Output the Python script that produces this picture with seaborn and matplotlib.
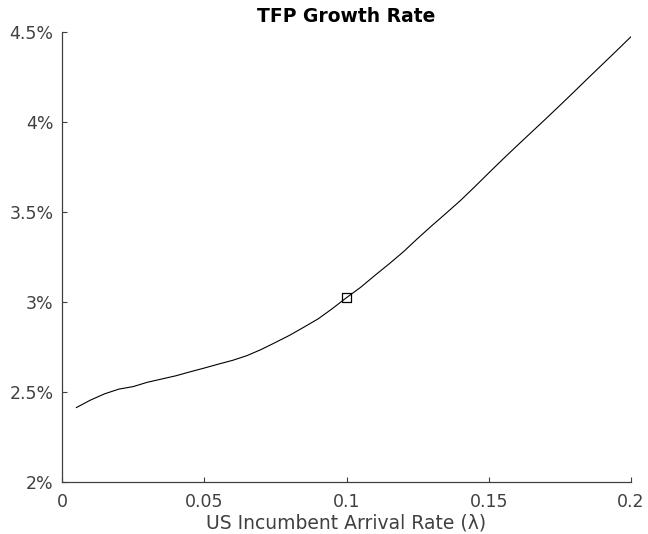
import numpy as np
import pandas as pd
import matplotlib
matplotlib.use("Agg")
import matplotlib.pyplot as plt
from matplotlib.ticker import FuncFormatter
import seaborn as sns

# US incumbent arrival rate (lambda) and resulting TFP growth rate (%)
arrival_rate = [0.005, 0.010, 0.015, 0.020, 0.025, 0.030, 0.035, 0.040, 0.045, 0.050,
                0.055, 0.060, 0.065, 0.070, 0.075, 0.080, 0.085, 0.090, 0.095, 0.100,
                0.105, 0.110, 0.115, 0.120, 0.125, 0.130, 0.135, 0.140, 0.145, 0.150,
                0.155, 0.160, 0.165, 0.170, 0.175, 0.180, 0.185, 0.190, 0.195, 0.200]
tfp_growth = [2.413, 2.455, 2.490, 2.516, 2.530, 2.554, 2.572, 2.590, 2.612, 2.633,
              2.655, 2.676, 2.702, 2.736, 2.775, 2.815, 2.860, 2.906, 2.963, 3.024,
              3.082, 3.148, 3.212, 3.279, 3.353, 3.424, 3.493, 3.563, 3.639, 3.717,
              3.794, 3.869, 3.943, 4.017, 4.092, 4.168, 4.245, 4.321, 4.397, 4.474]

# Baseline calibration point
baseline_rate = [0.100]
baseline_growth = [3.024]

x_ticks = [0, 0.05, 0.1, 0.15, 0.2]
x_tick_labels = ["0", "0.05", "0.1", "0.15", "0.2"]
y_ticks = [2.0, 2.5, 3.0, 3.5, 4.0, 4.5]

df = pd.DataFrame({"rate": arrival_rate, "growth": tfp_growth})
base = pd.DataFrame({"rate": baseline_rate, "growth": baseline_growth})

sns.set_theme(style="ticks")
plt.rcParams["font.family"] = ["DejaVu Sans"]

fig = plt.figure(figsize=(6.48, 5.34), dpi=100)
ax = fig.add_axes([62 / 648, 1 - 482 / 534, (631 - 62) / 648, (482 - 32) / 534])

sns.lineplot(data=df, x="rate", y="growth", ax=ax, color="black", linewidth=0.8)
sns.scatterplot(data=base, x="rate", y="growth", ax=ax, marker="s", s=40,
                facecolor="none", edgecolor="black", linewidth=0.9, zorder=5)

ax.set_xlim(0, 0.2)
ax.set_ylim(2.0, 4.5)
ax.set_xticks(x_ticks)
ax.set_xticklabels(x_tick_labels)
ax.set_yticks(y_ticks)
ax.yaxis.set_major_formatter(FuncFormatter(lambda v, _: f"{v:g}%"))

grey = "#404040"
sns.despine(ax=ax)
for side in ("left", "bottom"):
    ax.spines[side].set_color(grey)
    ax.spines[side].set_linewidth(0.9)
ax.tick_params(direction="in", length=3.5, width=0.8, color=grey,
               labelcolor=grey, labelsize=12.5, pad=6)
ax.tick_params(axis="x", pad=8)

ax.set_xlabel("US Incumbent Arrival Rate (λ)", fontsize=13.5, color=grey, labelpad=2)
ax.set_ylabel("")
ax.set_title("TFP Growth Rate", fontsize=13.5, fontweight="bold", color="black", pad=7)

fig.savefig("out.png", dpi=100)
